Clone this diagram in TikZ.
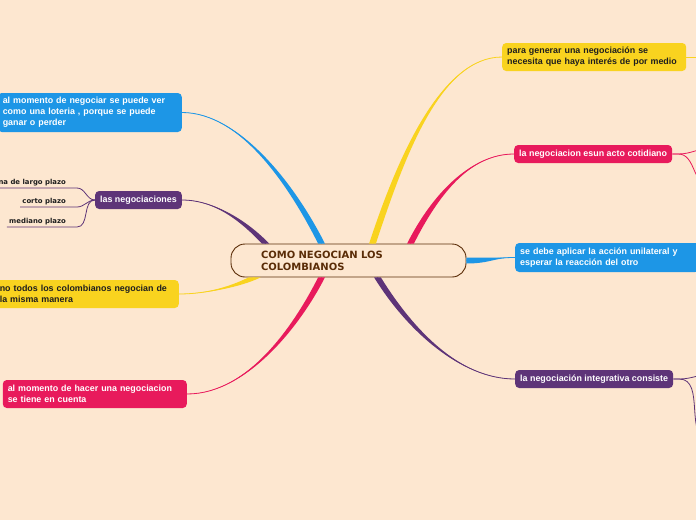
\documentclass[tikz,border=0pt]{standalone}
\usepackage{fontspec}
\setmainfont{Liberation Sans}
\newfontfamily\rootfont{DejaVu Sans}
\usepackage{tikz}
\definecolor{paper}{HTML}{FDE7D0}
\definecolor{mapblue}{HTML}{1D96E6}
\definecolor{mappurple}{HTML}{5E3478}
\definecolor{mapyellow}{HTML}{F9D31F}
\definecolor{mappink}{HTML}{E81A5C}
\definecolor{rootbrown}{HTML}{5A2C07}
\definecolor{inkgray}{HTML}{1E1E1E}

% tapered branch: colour, start, c1, c2, end, shift one side, shift other side
\newcommand{\branch}[7]{%
  \fill[#1] ([#6]#2) .. controls ([#6]#3) and (#4) .. (#5)
    .. controls (#4) and ([#7]#3) .. ([#7]#2) -- cycle;
  \draw[#1,line width=0.8pt] (#2) .. controls (#3) and (#4) .. (#5);}

\begin{document}
\begin{tikzpicture}[x=1pt,y=-1pt,
  topic/.style={rounded corners=4pt,inner xsep=5pt,inner ysep=3pt,align=left,
    font=\fontsize{8.9}{11}\selectfont\bfseries,text=white},
  wide/.style={text width=174pt},
  rootnode/.style={draw=rootbrown,line width=0.9pt,fill=paper,rounded corners=14pt,
    minimum height=33pt,text width=175pt,inner xsep=30pt,inner ysep=0pt,align=left,
    font=\rootfont\bfseries\fontsize{10}{12}\selectfont,text=rootbrown},
  sub/.style={font=\rootfont\bfseries\fontsize{6.9}{8}\selectfont,text=inkgray,
    inner xsep=2pt,inner ysep=2pt},
  subline/.style={line width=0.8pt}]
  \fill[paper] (0,0) rectangle (696,520);
  \useasboundingbox (0,0) rectangle (696,520);

  \node[rootnode] (root) at (348.5,260.5) {COMO NEGOCIAN LOS\\COLOMBIANOS};

  % left side
  \node[topic,wide,fill=mapblue,minimum height=39pt,anchor=east] (loteria) at (182,112.5)
    {al momento de negociar se puede ver\\como una loteria , porque se puede\\ganar o perder};
  \node[topic,fill=mappurple,minimum height=18pt,anchor=east] (negs) at (182,200)
    {las negociaciones};
  \node[topic,wide,fill=mapyellow,text=inkgray,minimum height=28pt,anchor=east] (manera) at (179,294)
    {no todos los colombianos negocian de\\la misma manera};
  \node[topic,wide,fill=mappink,minimum height=28pt,anchor=east] (cuenta) at (187,394)
    {al momento de hacer una negociacion\\se tiene en cuenta};

  \node[sub,anchor=south east] (largo) at (68,188) {na de largo plazo};
  \node[sub,anchor=south east] (corto) at (68,207) {corto plazo};
  \node[sub,anchor=south east] (mediano) at (68,227) {mediano plazo};

  % right side
  \node[topic,wide,fill=mapyellow,text=inkgray,minimum height=28pt,anchor=west] (interes) at (502,57)
    {para generar una negociación se\\necesita que haya interés de por medio};
  \node[topic,fill=mappink,minimum height=18pt,anchor=west] (cotidiano) at (514,154)
    {la negociacion esun acto cotidiano};
  \node[topic,wide,fill=mapblue,minimum height=29pt,anchor=west] (unilateral) at (515,257.5)
    {se debe aplicar la acción unilateral y\\esperar la reacción del otro};
  \node[topic,fill=mappurple,minimum height=18pt,anchor=west] (integrativa) at (515,379)
    {la negociación integrativa consiste};

  % branches from the centre
  \coordinate (sLoteria) at ([xshift=-27pt]root.north);
  \coordinate (sNegs) at ([xshift=-83pt]root.north);
  \coordinate (sManera) at ([xshift=-94pt]root.south);
  \coordinate (sCuenta) at ([xshift=-27pt]root.south);
  \coordinate (sInteres) at ([xshift=24pt]root.north);
  \coordinate (sCotidiano) at ([xshift=62pt]root.north);
  \coordinate (sIntegrativa) at ([xshift=29pt]root.south);

  \branch{mapblue}{sLoteria}{292,185}{240,112.5}{loteria.east}{xshift=-3.4pt}{xshift=3.4pt}
  \branch{mappurple}{sNegs}{245,222}{215,200}{negs.east}{xshift=-3.6pt}{xshift=3.6pt}
  \branch{mapyellow}{sManera}{235,287}{205,294}{manera.east}{xshift=-6pt}{xshift=6pt}
  \branch{mappink}{sCuenta}{300,320}{250,394}{cuenta.east}{xshift=-3.4pt}{xshift=3.4pt}
  \branch{mapyellow}{sInteres}{400,160}{440,57}{interes.west}{xshift=-3.4pt}{xshift=3.4pt}
  \branch{mappink}{sCotidiano}{435,195}{470,154}{cotidiano.west}{xshift=-3.4pt}{xshift=3.4pt}
  \branch{mapblue}{root.east}{490,260.5}{495,257.5}{unilateral.west}{yshift=-3pt}{yshift=3pt}
  \branch{mappurple}{sIntegrativa}{410,330}{460,379}{integrativa.west}{xshift=-3.4pt}{xshift=3.4pt}

  % sub branches
  \foreach \leaf in {largo,corto,mediano}
    \draw[subline,mappurple] (\leaf.south west) -- (\leaf.south east) -- ++(9,0)
      to[out=0,in=180] (negs.west);

  \coordinate (offA) at (712,57);
  \coordinate (offB) at (712,148);
  \coordinate (offC) at (710,186);
  \coordinate (offD) at (712,374);
  \coordinate (offE) at (710,440);
  \draw[subline,mapyellow] (interes.east) -- (offA);
  \draw[subline,mappink] (cotidiano.east) -- ++(6,0) to[out=0,in=180] (offB);
  \draw[subline,mappink] (cotidiano.east) -- ++(6,0) to[out=0,in=180] (offC);
  \draw[subline,mappurple] (integrativa.east) -- ++(6,0) to[out=0,in=180] (offD);
  \draw[subline,mappurple] (integrativa.east) -- ++(6,0) to[out=0,in=180] (offE);
\end{tikzpicture}
\end{document}
